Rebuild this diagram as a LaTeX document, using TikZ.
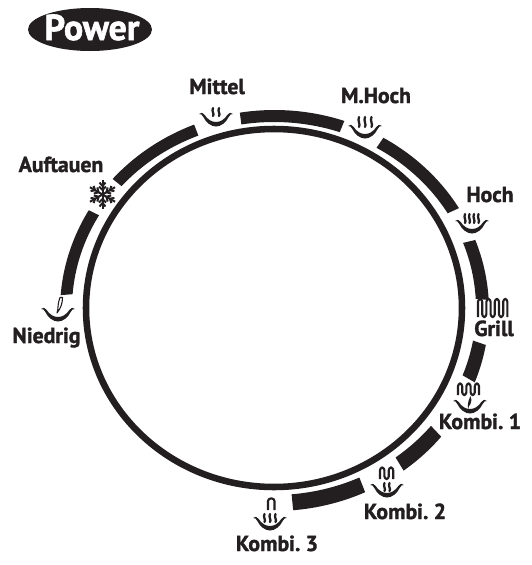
\documentclass[tikz,border=0pt]{standalone}
\usepackage{fontspec}
\setmainfont[BoldFeatures={FakeBold=1.6},WordSpace=0.65]{PT Sans}
\definecolor{ink}{HTML}{231F20}
\newcommand{\bandseg}[2]{\fill[ink] plot[domain=#1:#2,samples=40] ({274.5+214.5*cos(\x)},{310.5-200.5*sin(\x)}) -- plot[domain=#2:#1,samples=40] ({274+202*cos(\x)},{308.5-186.5*sin(\x)}) -- cycle;}
\newcommand{\bowlat}[2]{\fill[ink,shift={(#1,#2)}] (-17,1) .. controls (-15,-1) and (-13,-0.5) .. (-11.5,1.8) .. controls (-8,7) and (-4,9) .. (0,9) .. controls (4,9) and (8,7) .. (11.5,1.8) .. controls (13,-0.5) and (15,-1) .. (17,1) .. controls (15,0.8) and (14,1.5) .. (13,3.5) .. controls (10,9.5) and (5,13.5) .. (0,13.5) .. controls (-5,13.5) and (-10,9.5) .. (-13,3.5) .. controls (-14,1.5) and (-15,0.8) .. (-17,1) -- cycle;}
\newcommand{\steamat}[3]{\draw[steamline,shift={(#1,#2)}] (0,0) .. controls (1.8,-#3*0.25) and (-1.8,-#3*0.6) .. (0,-#3);}
\newcommand{\heaterat}[5]{% x, bottom y, half width, height, humps
  \draw[heatline,shift={(#1,#2)}] (0,0)
  \foreach \k in {1,...,#5}{ -- ({(2*\k-2)*#3},-#4) -- ({(2*\k-1)*#3},-#4) -- ({(2*\k-1)*#3},0) \ifnum\k<#5 -- ({(2*\k)*#3},0)\fi } ;}
\tikzset{
  x=0.75pt,y=-0.75pt,
  lab/.style={font=\fontsize{16.3}{16.3}\bfseries,text=ink,anchor=base,inner sep=0pt,outer sep=0pt},
  steamline/.style={ink,line width=1.7pt,line cap=round},
  heatline/.style={ink,line width=1.6pt,rounded corners=2pt,line join=round},
  flake/.style={ink,line width=1.5pt},
  ring/.style={draw=ink,line width=4.9pt,fill=none}
}
\begin{document}
\begin{tikzpicture}
\useasboundingbox (0,0) rectangle (532,565);
% inner ring
\draw[ring] (274,308) ellipse [x radius=188, y radius=179];
% outer band
\bandseg{150}{175.6}
\bandseg{112}{139}
\bandseg{71}{99.3}
\bandseg{30.7}{59.5}
\bandseg{3}{20.6}
\bandseg{-21}{-9.9}
\bandseg{-53}{-39}
\bandseg{-85}{-65}
% title
\fill[ink] (90,29.5) ellipse [x radius=62, y radius=21.5];
\node[lab,font=\fontsize{27}{27}\bfseries,text=white] (power) at (92,40) {Power};
% labels
\node[lab] (mittel) at (217,94) {Mittel};
\node[lab] (auftauen) at (61,172) {Auftauen};
\node[lab] (mhoch) at (376,103) {M.Hoch};
\node[lab] (hoch) at (490,202) {Hoch};
\node[lab] (grill) at (494,336) {Grill};
\node[lab] (kombi1) at (480,429) {Kombi. 1};
\node[lab] (kombi2) at (405,519) {Kombi. 2};
\node[lab] (kombi3) at (277,551) {Kombi. 3};
\node[lab] (niedrig) at (46.5,343) {Niedrig};
% Mittel icon
\bowlat{216}{113}
\steamat{213}{116}{8}\steamat{219}{116}{8}
% M.Hoch icon
\bowlat{365}{125}
\steamat{359}{127}{10}\steamat{365}{127}{10}\steamat{371.5}{127}{10}
% Hoch icon
\bowlat{472}{220}
\steamat{465}{223}{9}\steamat{469.5}{223}{9}\steamat{474}{223}{9}\steamat{478.5}{223}{9}
% Niedrig icon
\bowlat{58}{308}
\draw[ink,line width=0.8pt,line join=round] (57,313) .. controls (58.5,309) and (57.5,303) .. (60,297.5) -- (62.5,297.5) .. controls (62.5,303) and (61,308) .. (57,313) -- cycle;
% Grill icon
\heaterat{478}{317}{4.2}{18}{4}
% Kombi 1 icon
\heaterat{458}{395}{4.2}{11.5}{3}
\bowlat{470}{400}
\fill[ink] (470.5,396) .. controls (471.5,399) and (472,401) .. (470.5,404) .. controls (468,407) and (468,409) .. (469,409.5) .. controls (467,407) and (467.5,402) .. (470.5,396) -- cycle;
% Kombi 2 icon
\heaterat{380}{479}{4.4}{11.5}{2}
\bowlat{387}{484}
\steamat{384.5}{491}{8}\steamat{389.5}{491}{8}
% Kombi 3 icon
\heaterat{268}{510}{6.5}{11.5}{1}
\bowlat{270}{517}
\steamat{264.5}{522}{8}\steamat{270}{522}{8}\steamat{275.5}{522}{8}
% snowflake
\foreach \a in {30,90,150,210,270,330}{
  \begin{scope}[shift={(102.5,194.5)},rotate=\a]
  \draw[flake] (0,0) -- (14.5,0);
  \draw[flake] (4.5,0) -- (8,3.5);
  \draw[flake] (4.5,0) -- (8,-3.5);
  \draw[flake] (8.5,0) -- (12,3);
  \draw[flake] (8.5,0) -- (12,-3);
  \end{scope}
}
\end{tikzpicture}
\end{document}
